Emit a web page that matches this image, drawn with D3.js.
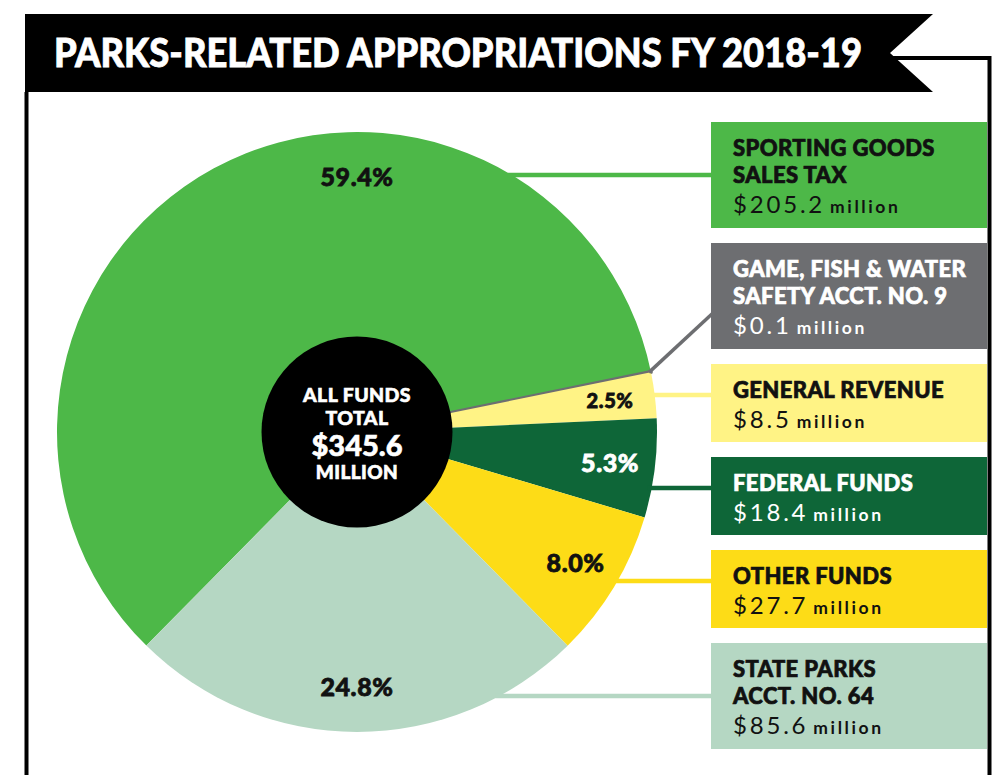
<!DOCTYPE html>
<html lang="en">
<head>
<meta charset="utf-8">
<title>Parks-Related Appropriations FY 2018-19</title>
<script src="https://cdn.jsdelivr.net/npm/d3@7"></script>
<style>
  body { margin: 0; background: #fff; }
  svg { display: block; font-family: Lato, "Open Sans", sans-serif; }
  .head { font-weight: 900; font-size: 22px; letter-spacing: 0.4px; stroke-width: 0.7px; }
  .pct { font-weight: 900; letter-spacing: 0.6px; stroke-width: 0.8px; }
</style>
</head>
<body>
<script>
// data
var headings = [
  ["SPORTING GOODS", "SALES TAX"],
  ["GAME, FISH & WATER", "SAFETY ACCT. NO. 9"],
  ["GENERAL REVENUE"],
  ["FEDERAL FUNDS"],
  ["OTHER FUNDS"],
  ["STATE PARKS", "ACCT. NO. 64"]
];
var amounts = [205.2, 0.1, 8.5, 18.4, 27.7, 85.6];     // $ million
var amountText = ["$205.2", "$0.1", "$8.5", "$18.4", "$27.7", "$85.6"];
var shares = ["59.4%", "", "2.5%", "5.3%", "8.0%", "24.8%"];
var totalText = "$345.6";
var title = "PARKS-RELATED APPROPRIATIONS FY 2018-19";

// styling
var fills    = ["#4db848", "#6d6e71", "#fff385", "#0e6638", "#fddc17", "#b5d7c3"];
var boxText  = ["#111", "#fff", "#111", "#fff", "#111", "#111"];
var pctText  = ["#111", "#111", "#111", "#fff", "#111", "#111"];

var w = 1000, h = 775;
var cx = 357, cy = 432, r = 300;

var svg = d3.select("body").append("svg")
  .attr("width", w)
  .attr("height", h);

// frame + banner
svg.append("path")
  .attr("d", "M26.5,92 V775 M890,58 H989.5 V775")
  .attr("fill", "none")
  .attr("stroke", "#000")
  .attr("stroke-width", 4);

svg.append("polygon")
  .attr("points", "25,14 933,14 890,53 933,92 25,92")
  .attr("fill", "#000");

svg.append("text")
  .attr("x", 54)
  .attr("y", 67)
  .attr("fill", "#fff")
  .attr("stroke", "#fff")
  .attr("stroke-width", 0.8)
  .attr("font-weight", 900)
  .attr("font-size", 39)
  .attr("textLength", 808)
  .attr("lengthAdjust", "spacingAndGlyphs")
  .text(title);

// pie
var deg = Math.PI / 180;
var start = 224.6 * deg;
var pie = d3.pie().sort(null).value(function(d) { return d; })
  .startAngle(start).endAngle(start + 2 * Math.PI);
var arcs = pie(amounts);
var arc = d3.arc().innerRadius(0).outerRadius(r);

var g = svg.append("g").attr("transform", "translate(" + cx + "," + cy + ")");

g.selectAll("path.slice")
  .data(arcs)
  .enter()
  .append("path")
  .attr("class", "slice")
  .attr("d", arc)
  .attr("fill", function(d, i) { return fills[i]; })
  .attr("stroke", function(d, i) { return i == 1 ? fills[1] : "none"; })
  .attr("stroke-width", 3.5)
  .attr("stroke-linejoin", "round");

// legend boxes
var bx = 711, bw = 276, gap = 15;
var boxes = [];
var yy = 122;
headings.forEach(function(hd, i) {
  var bh = hd.length == 2 ? 106 : 78;
  boxes.push({ y: yy, h: bh, line: yy + (hd.length == 2 ? 53 : 31) });
  yy += bh + gap;
});

// leader lines
boxes.forEach(function(b, i) {
  if (i == 1) {
    var a = (arcs[1].startAngle + arcs[1].endAngle) / 2;
    var px = cx + (r - 2) * Math.sin(a), py = cy - (r - 2) * Math.cos(a);
    svg.append("path")
      .attr("d", "M" + px + "," + py + " L" + (bx + 2) + "," + (b.y + 70))
      .attr("stroke", fills[1])
      .attr("stroke-width", 3.5)
      .attr("fill", "none");
    return;
  }
  var dy = b.line - cy;
  var ex = cx + Math.sqrt(r * r - dy * dy) - 4;
  svg.append("line")
    .attr("x1", ex).attr("x2", bx + 2)
    .attr("y1", b.line).attr("y2", b.line)
    .attr("stroke", fills[i])
    .attr("stroke-width", 4.5);
});

var box = svg.selectAll("g.box")
  .data(boxes)
  .enter()
  .append("g")
  .attr("class", "box")
  .attr("transform", function(b) { return "translate(" + bx + "," + b.y + ")"; });

box.append("rect")
  .attr("width", bw)
  .attr("height", function(b) { return b.h; })
  .attr("fill", function(b, i) { return fills[i]; });

box.each(function(b, i) {
  var el = d3.select(this);
  var hd = headings[i];
  hd.forEach(function(t, k) {
    el.append("text")
      .attr("class", "head")
      .attr("x", 22)
      .attr("y", 34 + k * 27)
      .attr("fill", boxText[i])
      .attr("stroke", boxText[i])
      .text(t);
  });
  var tv = el.append("text")
    .attr("x", 22)
    .attr("y", 34 + (hd.length - 1) * 27 + 29.5)
    .attr("fill", boxText[i]);
  tv.append("tspan")
    .attr("font-size", 24)
    .attr("letter-spacing", 2.8)
    .text(amountText[i]);
  tv.append("tspan")
    .attr("font-size", 17.5)
    .attr("font-weight", 700)
    .attr("letter-spacing", 2.6)
    .attr("dx", 5)
    .text("million");
});

// percent labels
var lr = 255;
g.selectAll("text.pct")
  .data(arcs)
  .enter()
  .append("text")
  .attr("class", "pct")
  .attr("text-anchor", "middle")
  .attr("dy", "0.36em")
  .attr("font-size", function(d, i) { return i == 2 ? 20 : 25; })
  .attr("fill", function(d, i) { return pctText[i]; })
  .attr("stroke", function(d, i) { return pctText[i]; })
  .attr("x", function(d, i) {
    var a = i == 0 ? 2 * Math.PI : (d.startAngle + d.endAngle) / 2;
    return lr * Math.sin(a);
  })
  .attr("y", function(d, i) {
    var a = i == 0 ? 2 * Math.PI : (d.startAngle + d.endAngle) / 2;
    return -lr * Math.cos(a);
  })
  .text(function(d, i) { return shares[i]; });

// centre disc
g.append("circle").attr("r", 95.5).attr("fill", "#000");
var ct = g.append("g")
  .attr("fill", "#fff")
  .attr("stroke", "#fff")
  .attr("stroke-width", 0.6)
  .attr("text-anchor", "middle")
  .attr("font-weight", 900);
ct.append("text").attr("y", -30).attr("font-size", 19.5).attr("letter-spacing", 0.4).text("ALL FUNDS");
ct.append("text").attr("y", -7).attr("font-size", 19.5).attr("letter-spacing", 0.4).text("TOTAL");
ct.append("text").attr("y", 24).attr("font-size", 29).text(totalText);
ct.append("text").attr("y", 47).attr("font-size", 19).attr("letter-spacing", 0.4).text("MILLION");
</script>
</body>
</html>
